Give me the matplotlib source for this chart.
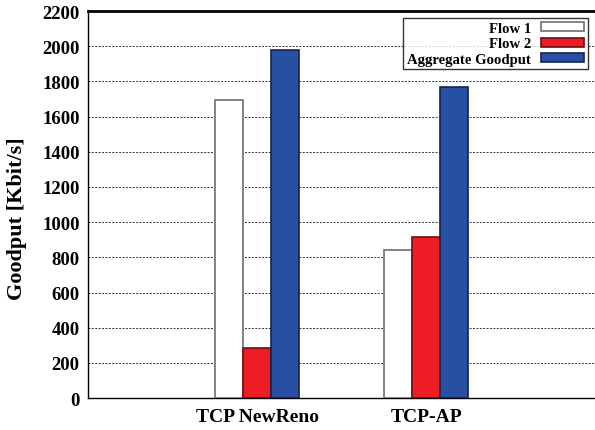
import numpy as np
import matplotlib.pyplot as plt

categories = ["TCP NewReno", "TCP-AP"]
flow1 = [1692, 843]
flow2 = [283, 917]
aggregate = [1977, 1766]
series_names = ["Flow 1", "Flow 2", "Aggregate Goodput"]

plt.rcParams['font.family'] = ['Liberation Serif', 'DejaVu Serif']
plt.rcParams['font.weight'] = 'bold'

fig = plt.figure(figsize=(5.95, 4.31), dpi=100)
ax = fig.add_axes([0.148, 0.074, 0.852, 0.898])

x = np.arange(len(categories))
w = 0.166
ax.bar(x - w, flow1, w, color="white", edgecolor="#6e6e6e", linewidth=1.2,
       label=series_names[0], zorder=3)
ax.bar(x, flow2, w, color="#ee1c25", edgecolor="#6a1010", linewidth=1.2,
       label=series_names[1], zorder=3)
ax.bar(x + w, aggregate, w, color="#2850a2", edgecolor="#14234a", linewidth=1.2,
       label=series_names[2], zorder=3)

ax.set_xlim(-1, 2)
ax.set_ylim(0, 2200)
ax.set_yticks(np.arange(0, 2201, 200))
ax.set_xticks(x)
ax.set_xticklabels(categories, fontsize=14, fontweight="bold")
ax.tick_params(axis="y", labelsize=13.5, length=0, pad=6)
ax.tick_params(axis="x", length=0, pad=7)
ax.yaxis.grid(True, linestyle=(0, (2, 1.5)), color="#333333", linewidth=0.7, zorder=0)
ax.set_ylabel("Goodput [Kbit/s]", fontsize=16, fontweight="bold")
ax.yaxis.set_label_coords(-0.12, 0.465)

ax.spines["right"].set_visible(False)
ax.spines["left"].set_linewidth(1.0)
ax.spines["bottom"].set_linewidth(1.0)
ax.spines["top"].set_linewidth(2.0)

leg = ax.legend(loc="upper right", markerfirst=False, fontsize=10.6, frameon=True,
                fancybox=False, edgecolor="black", handlelength=2.9, handleheight=0.55,
                borderaxespad=0.5, labelspacing=0.15, borderpad=0.25, handletextpad=0.7)
leg.get_frame().set_linewidth(1.0)
for t in leg.get_texts():
    t.set_ha("right")
    t.set_fontweight("bold")

fig.savefig("out.png", dpi=100)
